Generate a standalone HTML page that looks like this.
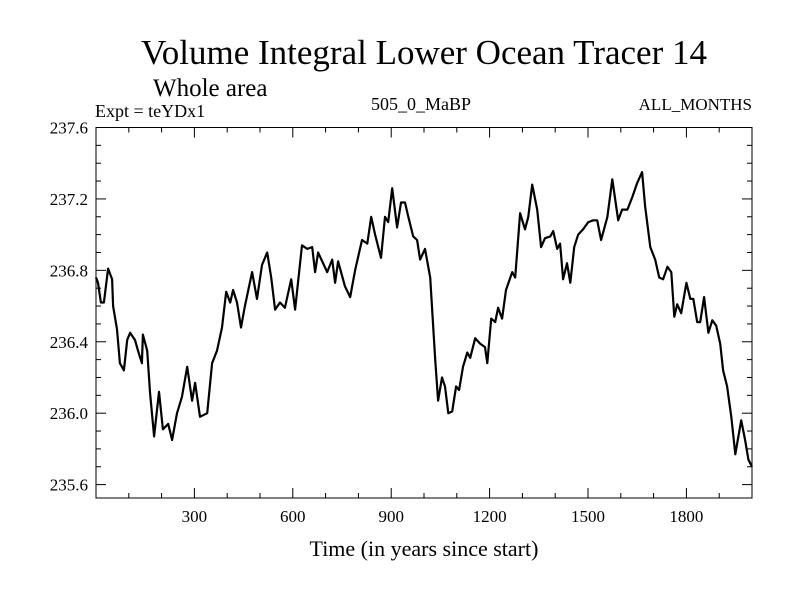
<!DOCTYPE html>
<html><head><meta charset="utf-8"><style>
body{margin:0;background:#fff}
svg text{font-family:"Liberation Serif",serif;fill:#000}
</style></head><body>
<svg width="800" height="600" xmlns="http://www.w3.org/2000/svg">
<rect width="800" height="600" fill="#fff"/>
<text x="424" y="64" font-size="35" text-anchor="middle">Volume Integral Lower Ocean Tracer 14</text>
<text x="153" y="96" font-size="25">Whole area</text>
<text x="95" y="117" font-size="18">Expt = teYDx1</text>
<text x="421" y="110" font-size="18" text-anchor="middle">505_0_MaBP</text>
<text x="752" y="110" font-size="17" text-anchor="end">ALL_MONTHS</text>
<text x="424" y="556" font-size="22" text-anchor="middle">Time (in years since start)</text>
<g id="axes"></g>
<path id="series" fill="none" stroke="#000" stroke-width="2.2" stroke-linejoin="round"/>
<rect x="96" y="127.5" width="656" height="370.5" fill="none" stroke="#000" stroke-width="1"/>
</svg>
<script>
const years=[0,6,15,24,37,49,52,64,73,85,95,104,119,128,140,143,156,165,177,192,204,220,232,247,262,278,293,302,317,339,354,369,384,397,409,418,430,442,454,476,491,506,522,534,546,561,576,595,607,628,644,659,668,677,705,720,729,738,759,775,790,811,827,839,851,869,881,891,903,918,930,942,952,967,979,988,1003,1019,1034,1043,1055,1064,1074,1086,1098,1107,1119,1132,1141,1156,1171,1186,1193,1205,1217,1226,1238,1250,1269,1278,1293,1308,1318,1330,1345,1357,1369,1385,1394,1406,1415,1424,1436,1446,1458,1470,1485,1501,1516,1528,1540,1559,1574,1592,1604,1620,1635,1650,1665,1674,1690,1705,1717,1729,1742,1754,1763,1772,1784,1800,1812,1821,1833,1842,1854,1867,1879,1891,1903,1912,1924,1937,1949,1967,1979,1989,2000];
const values=[236.76,236.73,236.62,236.62,236.81,236.75,236.60,236.47,236.28,236.24,236.41,236.45,236.41,236.35,236.28,236.44,236.35,236.11,235.87,236.12,235.91,235.94,235.85,236.00,236.09,236.26,236.07,236.17,235.98,236.00,236.28,236.35,236.48,236.68,236.62,236.69,236.62,236.48,236.60,236.79,236.64,236.83,236.90,236.76,236.58,236.62,236.59,236.75,236.58,236.94,236.92,236.93,236.79,236.90,236.79,236.86,236.73,236.85,236.71,236.65,236.80,236.97,236.95,237.10,237.00,236.87,237.10,237.07,237.26,237.04,237.18,237.18,237.10,236.99,236.97,236.86,236.92,236.76,236.30,236.07,236.20,236.15,236.00,236.01,236.15,236.13,236.26,236.34,236.31,236.42,236.39,236.37,236.28,236.53,236.51,236.59,236.53,236.69,236.79,236.76,237.12,237.03,237.10,237.28,237.14,236.93,236.98,236.99,237.02,236.92,236.95,236.75,236.84,236.73,236.93,237.00,237.03,237.07,237.08,237.08,236.97,237.10,237.31,237.08,237.14,237.14,237.21,237.29,237.35,237.16,236.93,236.86,236.76,236.75,236.82,236.79,236.54,236.61,236.56,236.73,236.64,236.64,236.51,236.51,236.65,236.45,236.52,236.49,236.39,236.24,236.15,235.98,235.77,235.96,235.85,235.74,235.70];
const xTickLabels=["300","600","900","1200","1500","1800"];
const yTickLabels=["235.6","236.0","236.4","236.8","237.2","237.6"];
const X0=96,X1=752,Y0=498,Y1=127.5,XMIN=0,XMAX=2000,YMIN=235.525,YMAX=237.6;
function sx(v){return X0+(v-XMIN)/(XMAX-XMIN)*(X1-X0);}
function sy(v){return Y0-(v-YMIN)/(YMAX-YMIN)*(Y0-Y1);}
const NS="http://www.w3.org/2000/svg";
const axes=document.getElementById('axes');
function line(x1,y1,x2,y2,name){const l=document.createElementNS(NS,'line');
l.setAttribute('x1',x1);l.setAttribute('y1',y1);l.setAttribute('x2',x2);l.setAttribute('y2',y2);
l.setAttribute('stroke','#000');l.setAttribute('stroke-width','1');


axes.appendChild(l);}
function text(x,y,s,anchor,name){const t=document.createElementNS(NS,'text');
t.setAttribute('x',x);t.setAttribute('y',y);t.setAttribute('font-size','17');t.setAttribute('text-anchor',anchor);t.textContent=s;


axes.appendChild(t);}
for(let v=100;v<2000;v+=100){const x=sx(v);const major=v%300===0;const len=major?10:5;
line(x,Y0,x,Y0-len,'x-tick');line(x,Y1,x,Y1+len,'x-tick-top');}
xTickLabels.forEach(s=>text(sx(+s),Y0+24,s,'middle','x-tick-label'));
for(let i=0;i<=20;i++){const v=235.6+i*0.1;const y=sy(v);const major=i%4===0;const len=major?10:5;
line(X0,y,X0+len,y,'y-tick');line(X1,y,X1-len,y,'y-tick-right');}
yTickLabels.forEach(s=>text(88,sy(+s)+6,s,'end','y-tick-label'));
let d='';years.forEach((yr,i)=>{d+=(i?'L':'M')+sx(yr).toFixed(1)+','+sy(values[i]).toFixed(1);});
document.getElementById('series').setAttribute('d',d);
</script>
</body></html>
